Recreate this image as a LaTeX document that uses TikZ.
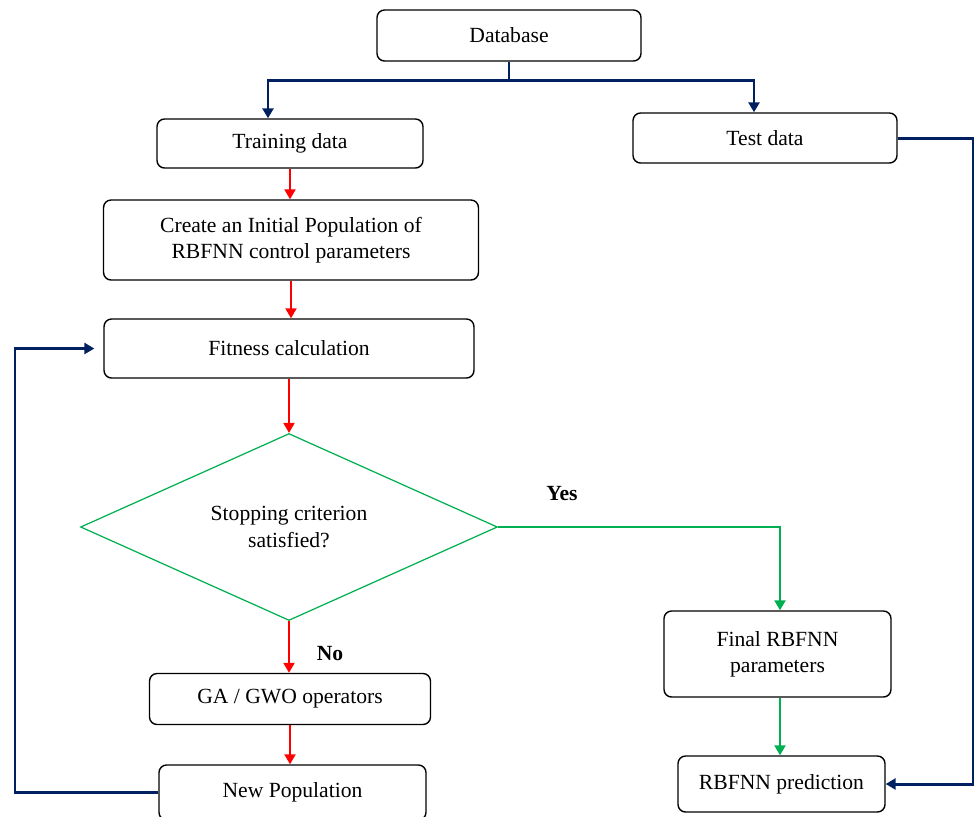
\documentclass[tikz,border=0pt]{standalone}
\usepackage{fontspec}
\setmainfont{Liberation Serif}
\usepackage{tikz}
\usetikzlibrary{arrows.meta,shapes.geometric,positioning}
\definecolor{navy}{RGB}{0,32,96}
\definecolor{okgreen}{RGB}{0,176,80}

\begin{document}
\begin{tikzpicture}[x=0.02cm, y=-0.02cm,
    font=\fontsize{12.3}{15}\selectfont,
    >={Triangle[width=0.22cm,length=0.2cm]},
    box/.style={draw, rounded corners=0.15cm, line width=0.8pt, align=center},
    navyline/.style={draw=navy, line width=1.7pt},
    redline/.style={draw=red, line width=1.1pt},
    greenline/.style={draw=okgreen, line width=1.3pt}
]
    \useasboundingbox (0,0) rectangle (975,816);
    % Data
    \node [box,
        minimum width=5.28cm,
        minimum height=1.02cm
    ] (Database) at (509,35.5) {Database};
    \node [box,
        minimum width=5.32cm,
        minimum height=0.98cm
    ] (TrainData) at (290,143.5) {Training data};
    \node [box,
        minimum width=5.28cm,
        minimum height=1.0cm
    ] (TestData) at (765,138) {Test data};
    % Optimisation loop
    \node [box,
        minimum width=7.5cm,
        minimum height=1.6cm
    ] (InitPop) at (291,240) {Create an Initial Population of\\RBFNN control parameters};
    \node [box,
        minimum width=7.4cm,
        minimum height=1.18cm
    ] (Fitness) at (289,348.5) {Fitness calculation};
    \node [diamond, aspect=2.2, inner sep=0pt,
        draw=okgreen, line width=0.7pt, align=center,
        minimum width=8.34cm,
        minimum height=3.74cm
    ] (Stopping) at (289,527) {Stopping criterion\\satisfied?};
    \node [box,
        minimum width=5.62cm,
        minimum height=1.02cm
    ] (Operators) at (290,699) {GA / GWO operators};
    \node [box,
        minimum width=5.34cm,
        minimum height=1.1cm
    ] (NewPop) at (292.5,792.5) {New Population};
    % Result
    \node [box,
        minimum width=4.54cm,
        minimum height=1.72cm
    ] (FinalParam) at (777.5,654) {Final RBFNN\\parameters};
    \node [box,
        minimum width=4.14cm,
        minimum height=1.12cm
    ] (Prediction) at (781.5,784) {RBFNN prediction};
    % Labels
    \node [font=\fontsize{12.3}{15}\selectfont\bfseries] (YesLabel) at (562,494) {Yes};
    \node [font=\fontsize{12.3}{15}\selectfont\bfseries] (NoLabel) at (330,654) {No};
    % Split of the database
    \coordinate (Split) at (509,80);
    \coordinate (RightEdge) at (973,138);
    \coordinate (LeftEdge) at (15,792.5);
    \draw[navyline] (Database.south) -- (Split);
    \draw[navyline,->] (Split) -| ([xshift=-0.44cm]TrainData.north);
    \draw[navyline,->] (Split) -| ([xshift=-0.22cm]TestData.north);
    \draw[navyline,->] (TestData.east) -- (RightEdge) |- (Prediction.east);
    % Arrows of the loop
    \draw[redline,->] (TrainData.south) -- (InitPop.north -| TrainData.south);
    \draw[redline,->] (InitPop.south) -- (Fitness.north -| InitPop.south);
    \draw[redline,->] (Fitness.south) -- (Stopping.north);
    \draw[redline,->] (Stopping.south) -- (Operators.north -| Stopping.south);
    \draw[redline,->] (Operators.south) -- (NewPop.north -| Operators.south);
    \draw[navyline,->] (NewPop.west) -- (LeftEdge) |- ([xshift=-0.18cm]Fitness.west);
    % Arrows to the result
    \draw[greenline,->] (Stopping.east) -| ([xshift=0.05cm]FinalParam.north);
    \draw[greenline,->] ([xshift=0.05cm]FinalParam.south) -- ([xshift=0.05cm]Prediction.north -| FinalParam.south);

\end{tikzpicture}
\end{document}
